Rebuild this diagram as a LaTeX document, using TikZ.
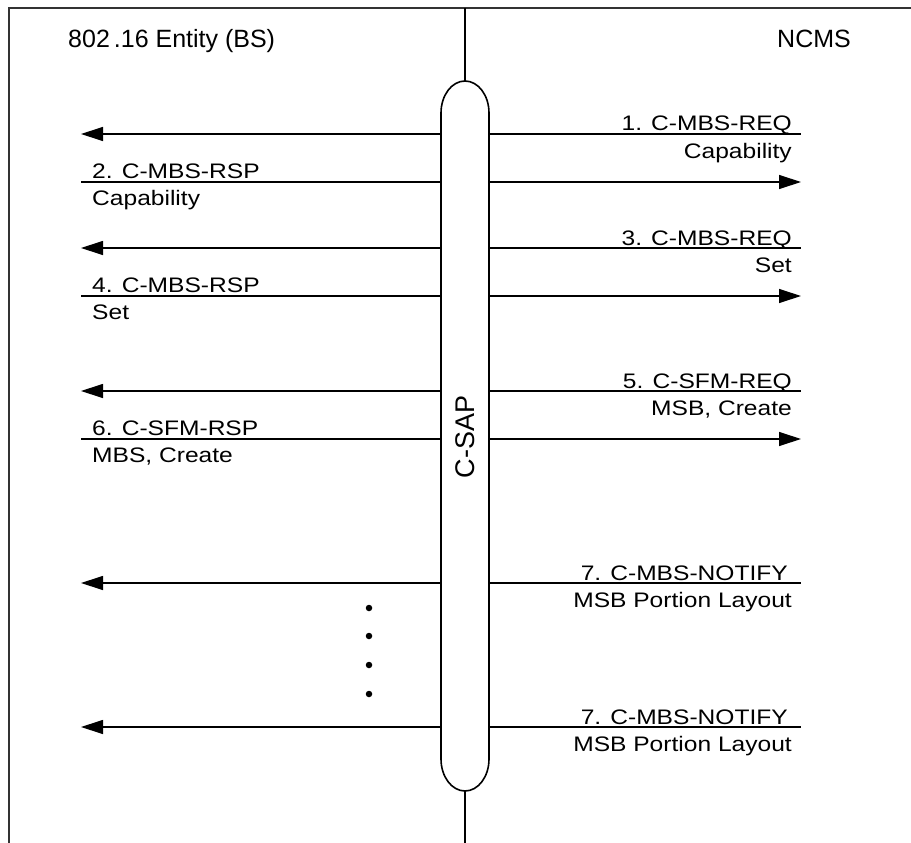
\documentclass[tikz,border=0pt]{standalone}
\usepackage{fontspec}
\usepackage{graphicx}
\setmainfont{Liberation Sans}
\usetikzlibrary{arrows.meta}
\newcommand{\lbl}[1]{\scalebox{1.17}[1]{#1}}
\begin{document}
\begin{tikzpicture}[x=1pt,y=-1pt,
  frame/.style={line width=1.6pt,draw=black!80},
  lifeline/.style={line width=1.5pt},
  capsule/.style={line width=1.6pt,fill=white},
  seg/.style={line width=1.2pt},
  msg/.style={line width=1.2pt,-{Triangle[length=22pt,width=14pt]}},
  lab/.style={inner sep=0pt,font=\fontsize{21}{25}\selectfont},
  labl/.style={lab,anchor=base west},
  labr/.style={lab,anchor=base east},
  title/.style={inner sep=0pt,anchor=base west,font=\fontsize{25}{30}\selectfont},
  dot/.style={circle,fill=black,inner sep=0pt,minimum size=6.5pt}]
\useasboundingbox (0,0) rectangle (911,843);
% frame
\coordinate (fbl) at (9,843);
\coordinate (ftl) at (9,8);
\coordinate (ftr) at (911,8);
\draw[frame] (fbl) -- (ftl) -- (ftr);
% titles
\node[title] (bs) at (68,48) {802\hspace{4pt}.16 Entity (BS)};
\node[title] (ncms) at (777,48) {NCMS};
% central lifeline and C-SAP capsule
\coordinate (ltop) at (465,8);
\coordinate (ctop) at (465,81);
\coordinate (cbot) at (465,791);
\coordinate (lbot) at (465,843);
\draw[lifeline] (ltop) -- (ctop);
\draw[lifeline] (cbot) -- (lbot);
\draw[capsule] (441,113) arc[start angle=180,end angle=360,x radius=24,y radius=32]
  -- (489,759) arc[start angle=0,end angle=180,x radius=24,y radius=32] -- cycle;
\node[rotate=90,inner sep=0pt,font=\fontsize{27}{30}\selectfont] (csap) at (465,437) {C-SAP};
% message coordinates
\foreach \i/\y in {1/134,2/182,3/248,4/296,5/391,6/439,7/583,8/727}{
  \coordinate (L\i) at (81,\y);
  \coordinate (C\i) at (441,\y);
  \coordinate (D\i) at (489,\y);
  \coordinate (R\i) at (801,\y);
}
% requests / notifications (NCMS -> BS)
\foreach \i in {1,3,5,7,8}{
  \draw[seg] (D\i) -- (R\i);
  \draw[msg] (C\i) -- (L\i);
}
% responses (BS -> NCMS)
\foreach \i in {2,4,6}{
  \draw[seg] (L\i) -- (C\i);
  \draw[msg] (D\i) -- (R\i);
}
% labels
\node[labr] (t1a) at (792,131) {\lbl{1. C-MBS-REQ}};
\node[labr] (t1b) at (792,158) {\lbl{Capability}};
\node[labl] (t2a) at (92,178) {\lbl{2. C-MBS-RSP}};
\node[labl] (t2b) at (92,205) {\lbl{Capability}};
\node[labr] (t3a) at (792,245) {\lbl{3. C-MBS-REQ}};
\node[labr] (t3b) at (792,272) {\lbl{Set}};
\node[labl] (t4a) at (92,292) {\lbl{4. C-MBS-RSP}};
\node[labl] (t4b) at (92,319) {\lbl{Set}};
\node[labr] (t5a) at (792,388) {\lbl{5. C-SFM-REQ}};
\node[labr] (t5b) at (792,415) {\lbl{MSB, Create}};
\node[labl] (t6a) at (92,435) {\lbl{6. C-SFM-RSP}};
\node[labl] (t6b) at (92,462) {\lbl{MBS, Create}};
\node[labr] (t7a) at (788,580) {\lbl{7. C-MBS-NOTIFY}};
\node[labr] (t7b) at (792,607) {\lbl{MSB Portion Layout}};
\node[labr] (t8a) at (788,724) {\lbl{7. C-MBS-NOTIFY}};
\node[labr] (t8b) at (792,751) {\lbl{MSB Portion Layout}};
% continuation dots
\foreach \j/\y in {1/608,2/636,3/665,4/694}{
  \node[dot] (dot\j) at (369,\y) {};
}
\end{tikzpicture}
\end{document}
